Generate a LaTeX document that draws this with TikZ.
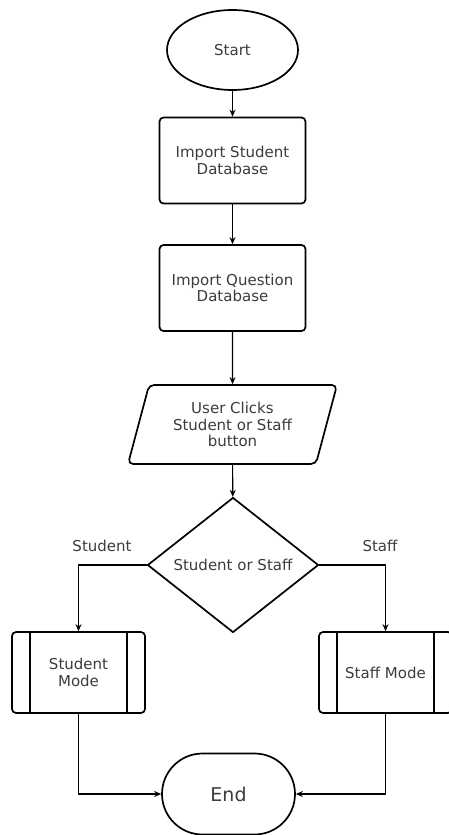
\documentclass[tikz,border=0pt]{standalone}
\usepackage{fontspec}
\setmainfont{DejaVu Sans}
\usetikzlibrary{arrows.meta,shapes.geometric,shapes.misc}
\definecolor{txtgray}{RGB}{60,60,60}
\tikzset{
  base/.style    = {draw=black,line width=1.7pt,fill=white,align=center,
                    text=txtgray,font=\fontsize{15}{16.8}\selectfont,inner sep=0pt},
  terminal/.style= {base,ellipse,minimum width=131pt,minimum height=80pt},
  stop/.style    = {base,rounded rectangle,minimum width=133pt,minimum height=81pt,
                    font=\fontsize{19}{22}\selectfont},
  proc/.style    = {base,rectangle,rounded corners=4pt,minimum width=146pt,minimum height=86pt},
  io/.style      = {base,trapezium,trapezium left angle=65,trapezium right angle=115,
                    trapezium stretches body,rounded corners=5pt,
                    minimum width=209pt,minimum height=79pt},
  decide/.style  = {base,diamond,aspect=1.27,minimum width=171pt,minimum height=135pt},
  sub/.style     = {base,rectangle,rounded corners=4pt,minimum width=133pt,minimum height=81pt},
  arrow/.style   = {-{Stealth[length=7pt,width=6pt]},line width=1.1pt},
  lbl/.style     = {text=txtgray,font=\fontsize{15}{16.8}\selectfont},
}
\begin{document}
\begin{tikzpicture}[x=1pt,y=-1pt]
  \useasboundingbox (0,0) rectangle (449,835);
  % main column
  \node[terminal] (start)   at (232.5,50)    {Start};
  \node[proc]     (impstud) at (232.5,160.5) {Import Student\\Database};
  \node[proc]     (impques) at (232.5,288)   {Import Question\\Database};
  \node[io]       (clicks)  at (232.5,424.5) {User Clicks\\Student or Staff\\button};
  \node[decide]   (choice)  at (233,565)     {Student or Staff};
  % the two modes
  \node[sub] (smode) at (78.5,672.5)  {Student\\Mode};
  \node[sub] (tmode) at (385.5,672.5) {Staff Mode};
  \foreach \m in {smode,tmode}{
    \draw[line width=1.7pt] ([xshift=19pt]\m.north west) -- ([xshift=19pt]\m.south west);
    \draw[line width=1.7pt] ([xshift=-19pt]\m.north east) -- ([xshift=-19pt]\m.south east);
  }
  \node[stop] (end) at (228.5,794) {End};

  \draw[arrow] (start)   -- (impstud);
  \draw[arrow] (impstud) -- (impques);
  \draw[arrow] (impques) -- (clicks);
  \draw[arrow] (clicks)  -- (choice);
  \draw[arrow] (choice.west) -| (smode.north);
  \draw[arrow] (choice.east) -| (tmode.north);
  \node[lbl] (lstud)  at (102,546) {Student};
  \node[lbl] (lstaff) at (380,546) {Staff};
  \draw[arrow] (smode.south) |- (end.west);
  \draw[arrow] (tmode.south) |- (end.east);
\end{tikzpicture}
\end{document}
